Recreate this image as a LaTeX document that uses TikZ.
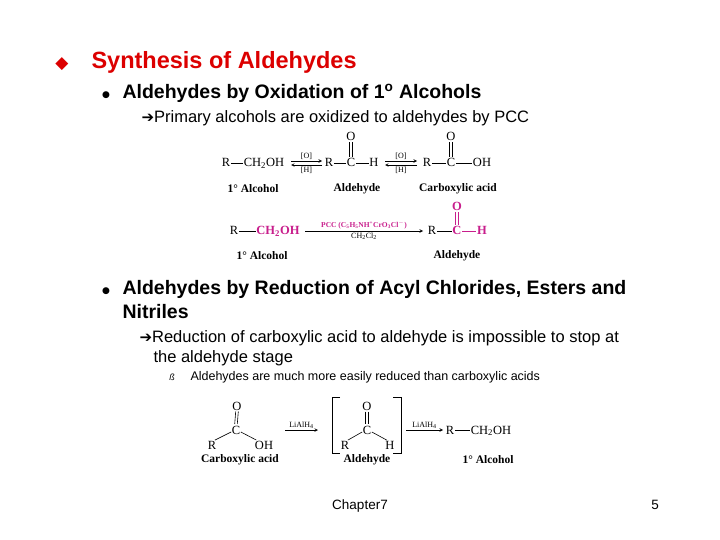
\documentclass[tikz,border=0pt]{standalone}
\usepackage{fontspec}
\setmainfont{Liberation Sans}
\newfontfamily\chem{Liberation Serif}
\newfontfamily\djv{DejaVu Sans}
\definecolor{mag}{RGB}{200,30,140}
\definecolor{ttl}{RGB}{220,0,0}
\begin{document}
\begin{tikzpicture}[x=1pt,y=-1pt,
  lvl1/.style={anchor=base west,font=\fontsize{19.5}{22}\selectfont\bfseries},
  lvl2/.style={anchor=base west,font=\fontsize{16.5}{19}\selectfont},
  ch/.style={anchor=base,font=\chem\fontsize{12.5}{14}\selectfont,inner sep=0.5pt},
  chm/.style={anchor=base,text=mag,font=\chem\fontsize{12.5}{14}\selectfont\bfseries,inner sep=0.5pt},
  chl/.style={font=\chem\fontsize{11.5}{13}\selectfont\bfseries,inner sep=0pt},
  cond/.style={font=\chem\fontsize{8}{9}\selectfont,inner sep=1.2pt},
  bond/.style={line width=0.6pt},
  rxn/.style={->,>=stealth,line width=0.6pt},
  dbl/.pic={}]
\useasboundingbox (0,0) rectangle (720,540);
\newcommand\dbond[3][black]{%
  \draw[bond,#1] ([xshift=-1.3,yshift=-1.5]#2.base) -- ([xshift=-1.3,yshift=10]#3.base);
  \draw[bond,#1] ([xshift=1.3,yshift=-1.5]#2.base) -- ([xshift=1.3,yshift=10]#3.base);}
% title
\node[anchor=base,text=ttl,font=\djv\fontsize{17}{18}\selectfont] (d0) at (62,69) {◆};
\node[anchor=base west,text=ttl,font=\fontsize{23.5}{26}\selectfont\bfseries] (t0) at (88,69) {Synthesis of Aldehydes};
% bullet 1
\node[anchor=base,font=\djv\fontsize{9}{10}\selectfont] (b1) at (106,98) {●};
\node[lvl1] (l1) at (119,99) {Aldehydes by Oxidation of 1\textsuperscript{o} Alcohols};
\node[lvl2] (l2) at (138,123) {{\djv\fontsize{15}{17}\selectfont ➔}Primary alcohols are oxidized to aldehydes by PCC};
% scheme 1
\node[ch] (a1) at (226,167) {R};
\node[ch] (a2) at (264,167) {CH\textsubscript{2}OH};
\draw[bond] ([yshift=4]a1.base east) -- ([yshift=4]a2.base west);
\coordinate (k1) at (291,161); \coordinate (k2) at (322,161);
\coordinate (k3) at (291,165); \coordinate (k4) at (322,165);
\draw[rxn] (k1) -- node[cond,above] (o1) {[O]} (k2);
\draw[rxn] (k4) -- node[cond,below] (h1) {[H]} (k3);
\node[ch] (a3) at (329,167) {R};
\node[ch] (a4) at (351,167) {C};
\node[ch] (a5) at (374,167) {H};
\node[ch] (a6) at (351,141) {O};
\draw[bond] ([yshift=4]a3.base east) -- ([yshift=4]a4.base west);
\draw[bond] ([yshift=4]a4.base east) -- ([yshift=4]a5.base west);
\dbond{a6}{a4}
\coordinate (k5) at (385,161); \coordinate (k6) at (417,161);
\coordinate (k7) at (385,165); \coordinate (k8) at (417,165);
\draw[rxn] (k5) -- node[cond,above] (o2) {[O]} (k6);
\draw[rxn] (k8) -- node[cond,below] (h2) {[H]} (k7);
\node[ch] (b3) at (427,167) {R};
\node[ch] (b4) at (451,167) {C};
\node[ch] (b5) at (482,167) {OH};
\node[ch] (b6) at (451,141) {O};
\draw[bond] ([yshift=4]b3.base east) -- ([yshift=4]b4.base west);
\draw[bond] ([yshift=4]b4.base east) -- ([yshift=4]b5.base west);
\dbond{b6}{b4}
\node[chl] (c1) at (253,189) {1° Alcohol};
\node[chl] (c2) at (357,189) {Aldehyde};
\node[chl] (c3) at (458,189) {Carboxylic acid};
% scheme 2
\node[ch] (p1) at (234,235) {R};
\node[chm] (p2) at (278,235) {CH\textsubscript{2}OH};
\draw[bond] ([yshift=4]p1.base east) -- ([yshift=4]p2.base west);
\coordinate (s1) at (305,231);
\coordinate (s9) at (423,231);
\draw[rxn] (s1) -- node[cond,above,text=mag,font=\chem\fontsize{7.5}{9}\selectfont\bfseries] (pcc) {PCC (C\textsubscript{5}H\textsubscript{5}NH\textsuperscript{+}CrO\textsubscript{3}Cl\textsuperscript{$-$})} node[cond,below] (dcm) {CH\textsubscript{2}Cl\textsubscript{2}} (s9);
\node[ch] (p3) at (432,235) {R};
\node[chm] (p4) at (457,235) {C};
\node[chm] (p5) at (482,235) {H};
\node[chm] (p6) at (457,211) {O};
\draw[bond] ([yshift=4]p3.base east) -- ([yshift=4]p4.base west);
\draw[bond,mag] ([yshift=4]p4.base east) -- ([yshift=4]p5.base west);
\dbond[mag]{p6}{p4}
\node[chl] (c4) at (262,256) {1° Alcohol};
\node[chl] (c5) at (457,256) {Aldehyde};
% bullet 2
\node[anchor=base,font=\djv\fontsize{9}{10}\selectfont] (b2) at (106,293) {●};
\node[lvl1] (m1) at (119,294) {Aldehydes by Reduction of Acyl Chlorides, Esters and};
\node[lvl1] (m2) at (119,318) {Nitriles};
\node[lvl2] (m3) at (136,342) {{\djv\fontsize{15}{17}\selectfont ➔}Reduction of carboxylic acid to aldehyde is impossible to stop at};
\node[lvl2] (m4) at (150,362) {the aldehyde stage};
\node[anchor=base,font=\fontsize{9}{10}\selectfont] (b3s) at (172,380) {\textit{ß}};
\node[anchor=base west,font=\fontsize{12.5}{14}\selectfont] (m5) at (187,380) {Aldehydes are much more easily reduced than carboxylic acids};
% scheme 3
\node[ch] (r1) at (237,410) {O};
\node[ch] (r2) at (236,434) {C};
\node[ch] (r3) at (212,449) {R};
\node[ch] (r4) at (264,449) {OH};
\dbond{r1}{r2}
\draw[bond] ([yshift=2]r2.base west) -- ([xshift=-2]r3.north east);
\draw[bond] ([yshift=2]r2.base east) -- ([xshift=2]r4.north west);
\node[chl] (c6) at (240,460) {Carboxylic acid};
\coordinate (t1) at (285,430);
\coordinate (t2) at (318,430);
\draw[rxn] (t1) -- node[cond,above] (li1) {LiAlH\textsubscript{4}} (t2);
\draw[line width=0.8pt] (340,397) -- (332,397) -- (332,453) -- (340,453);
\draw[line width=0.8pt] (393,397) -- (401,397) -- (401,453) -- (393,453);
\node[ch] (s1a) at (367,410) {O};
\node[ch] (s2) at (367,434) {C};
\node[ch] (s3) at (345,449) {R};
\node[ch] (s4) at (390,449) {H};
\dbond{s1a}{s2}
\draw[bond] ([yshift=2]s2.base west) -- ([xshift=-2]s3.north east);
\draw[bond] ([yshift=2]s2.base east) -- ([xshift=2]s4.north west);
\node[chl] (c7) at (367,460) {Aldehyde};
\coordinate (t3) at (406,430);
\coordinate (t4) at (443,430);
\draw[rxn] (t3) -- node[cond,above] (li2) {LiAlH\textsubscript{4}} (t4);
\node[ch] (u1) at (450,434) {R};
\node[ch] (u2) at (491,434) {CH\textsubscript{2}OH};
\draw[bond] ([yshift=4]u1.base east) -- ([yshift=4]u2.base west);
\node[chl] (c8) at (488,460) {1° Alcohol};
% footer
\node[anchor=base,font=\fontsize{13.5}{15}\selectfont] (f1) at (360,509) {Chapter7};
\node[anchor=base,font=\fontsize{13.5}{15}\selectfont] (f2) at (655,509) {5};
\end{tikzpicture}
\end{document}
